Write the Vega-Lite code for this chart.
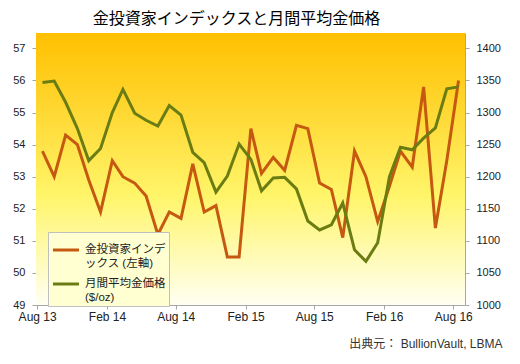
{
  "$schema": "https://vega.github.io/schema/vega-lite/v6.json",
  "width": 429,
  "height": 272,
  "autosize": {"type": "none"},
  "padding": {"left": 36, "top": 33, "right": 55, "bottom": 59},
  "background": "white",
  "title": {
    "text": "金投資家インデックスと月間平均金価格",
    "font": "Noto Sans CJK JP",
    "fontSize": 16,
    "fontWeight": "normal",
    "color": "#000000",
    "anchor": "middle",
    "dx": -14,
    "offset": 6
  },
  "config": {
    "view": {"stroke": null},
    "axis": {
      "labelFont": "Liberation Sans",
      "labelColor": "#222222",
      "domainColor": "#A6A6A6",
      "tickColor": "#A6A6A6",
      "gridColor": "#C9C4B0",
      "gridWidth": 1,
      "tickSize": 4
    },
    "legend": {
      "orient": "none",
      "legendX": 12,
      "legendY": 199,
      "fillColor": "#FFFFD2",
      "strokeColor": "#BFBFBF",
      "padding": 3,
      "labelFont": "Liberation Sans, Noto Sans CJK JP",
      "labelFontSize": 11.5,
      "labelColor": "#222222",
      "labelLimit": 300,
      "labelBaseline": "middle",
      "symbolType": "stroke",
      "symbolStrokeWidth": 3,
      "symbolSize": 680,
      "rowPadding": 0
    }
  },
  "data": {
    "values": [
      {"month": "2013-08-15", "idx": 53.8, "price": 1347},
      {"month": "2013-09-15", "idx": 53.0, "price": 1349},
      {"month": "2013-10-15", "idx": 54.3, "price": 1316},
      {"month": "2013-11-15", "idx": 54.0, "price": 1275},
      {"month": "2013-12-15", "idx": 52.9, "price": 1225},
      {"month": "2014-01-15", "idx": 51.9, "price": 1244},
      {"month": "2014-02-15", "idx": 53.5, "price": 1300},
      {"month": "2014-03-15", "idx": 53.0, "price": 1336},
      {"month": "2014-04-15", "idx": 52.8, "price": 1299},
      {"month": "2014-05-15", "idx": 52.4, "price": 1288},
      {"month": "2014-06-15", "idx": 51.2, "price": 1279},
      {"month": "2014-07-15", "idx": 51.9, "price": 1311},
      {"month": "2014-08-15", "idx": 51.7, "price": 1296},
      {"month": "2014-09-15", "idx": 53.4, "price": 1238},
      {"month": "2014-10-15", "idx": 51.9, "price": 1222},
      {"month": "2014-11-15", "idx": 52.1, "price": 1176},
      {"month": "2014-12-15", "idx": 50.5, "price": 1201},
      {"month": "2015-01-15", "idx": 50.5, "price": 1251},
      {"month": "2015-02-15", "idx": 54.5, "price": 1227},
      {"month": "2015-03-15", "idx": 53.1, "price": 1178},
      {"month": "2015-04-15", "idx": 53.6, "price": 1198},
      {"month": "2015-05-15", "idx": 53.2, "price": 1199},
      {"month": "2015-06-15", "idx": 54.6, "price": 1181},
      {"month": "2015-07-15", "idx": 54.5, "price": 1131},
      {"month": "2015-08-15", "idx": 52.8, "price": 1117},
      {"month": "2015-09-15", "idx": 52.6, "price": 1125},
      {"month": "2015-10-15", "idx": 51.1, "price": 1159},
      {"month": "2015-11-15", "idx": 53.8, "price": 1086},
      {"month": "2015-12-15", "idx": 53.0, "price": 1068},
      {"month": "2016-01-15", "idx": 51.6, "price": 1097},
      {"month": "2016-02-15", "idx": 52.7, "price": 1200},
      {"month": "2016-03-15", "idx": 53.8, "price": 1246},
      {"month": "2016-04-15", "idx": 53.3, "price": 1242},
      {"month": "2016-05-15", "idx": 55.8, "price": 1260},
      {"month": "2016-06-15", "idx": 51.4, "price": 1276},
      {"month": "2016-07-15", "idx": 53.5, "price": 1337},
      {"month": "2016-08-15", "idx": 56.0, "price": 1340}
    ]
  },
  "layer": [
    {
      "data": {"values": [{"bg": 1}]},
      "mark": {
        "type": "rect",
        "fill": {
          "gradient": "linear",
          "x1": 0, "y1": 0, "x2": 0, "y2": 1,
          "stops": [
            {"offset": 0, "color": "#FFC000"},
            {"offset": 0.3, "color": "#FFD935"},
            {"offset": 0.6, "color": "#FFF56A"},
            {"offset": 1, "color": "#FFFFF2"}
          ]
        }
      },
      "encoding": {}
    },
    {
      "mark": {"type": "line", "strokeWidth": 3, "strokeJoin": "miter"},
      "encoding": {
        "x": {
          "field": "month",
          "type": "temporal",
          "scale": {
            "type": "utc",
            "domain": [
              {"year": 2013, "month": 7, "date": 29, "utc": true},
              {"year": 2016, "month": 9, "date": 1, "utc": true}
            ]
          },
          "axis": {
            "title": "出典元： BullionVault, LBMA",
            "titleFont": "Liberation Sans, Noto Sans CJK JP",
            "titleFontSize": 12,
            "titleFontWeight": "normal",
            "titleColor": "#333333",
            "titleAnchor": "end",
            "titleAlign": "right",
            "titleBaseline": "middle",
            "titleX": 466,
            "titleY": 38,
            "labelExpr": "utcFormat(datum.value, '%b %y')",
            "labelFontSize": 12,
            "labelDx": 5,
            "labelPadding": 2,
            "grid": true,
            "values": [
              {"year": 2013, "month": 8, "date": 1, "utc": true},
              {"year": 2014, "month": 2, "date": 1, "utc": true},
              {"year": 2014, "month": 8, "date": 1, "utc": true},
              {"year": 2015, "month": 2, "date": 1, "utc": true},
              {"year": 2015, "month": 8, "date": 1, "utc": true},
              {"year": 2016, "month": 2, "date": 1, "utc": true},
              {"year": 2016, "month": 8, "date": 1, "utc": true}
            ]
          }
        },
        "y": {
          "field": "idx",
          "type": "quantitative",
          "scale": {"domain": [49, 57.48], "nice": false, "zero": false},
          "axis": {
            "orient": "left",
            "title": null,
            "values": [49, 50, 51, 52, 53, 54, 55, 56, 57],
            "labelFontSize": 11,
            "labelPadding": 7,
            "grid": true
          }
        },
        "color": {
          "datum": "金投資家インデックス (左軸)",
          "type": "nominal",
          "scale": {
            "domain": ["金投資家インデックス (左軸)", "月間平均金価格 ($/oz)"],
            "range": ["#C65911", "#6B7D12"]
          },
          "legend": {
            "title": null,
            "labelExpr": "datum.label == '金投資家インデックス (左軸)' ? ['金投資家インデ', 'ックス (左軸)'] : ['月間平均金価格', '($/oz)']"
          }
        }
      }
    },
    {
      "mark": {"type": "line", "strokeWidth": 3, "strokeJoin": "miter"},
      "encoding": {
        "x": {"field": "month", "type": "temporal"},
        "y": {
          "field": "price",
          "type": "quantitative",
          "scale": {"domain": [1000, 1424], "nice": false, "zero": false},
          "axis": {
            "orient": "right",
            "title": null,
            "format": "d",
            "values": [1000, 1050, 1100, 1150, 1200, 1250, 1300, 1350, 1400],
            "labelFontSize": 11,
            "labelPadding": 7,
            "grid": false
          }
        },
        "color": {"datum": "月間平均金価格 ($/oz)", "type": "nominal"}
      }
    }
  ],
  "resolve": {"scale": {"y": "independent"}}
}
